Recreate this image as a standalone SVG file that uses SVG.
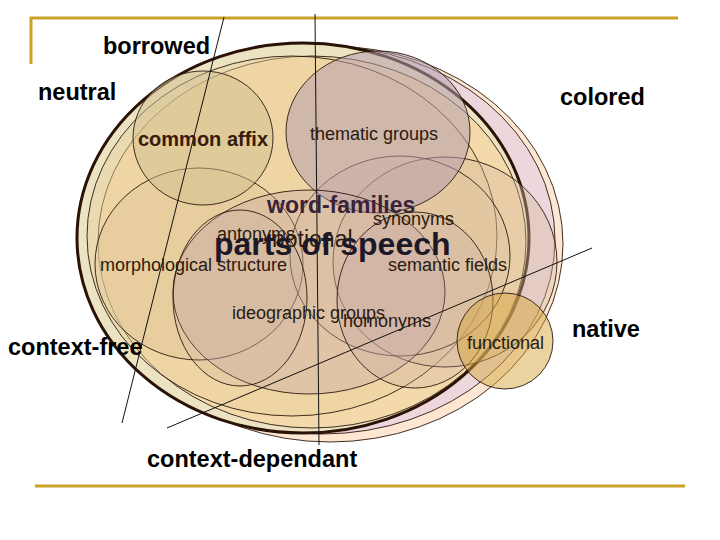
<svg xmlns="http://www.w3.org/2000/svg" width="720" height="540" viewBox="0 0 720 540">
<style>
.e{stroke:#2a1a0e;stroke-width:0.9}
.lbl{font-family:"Liberation Sans",Arial,sans-serif;font-weight:bold;font-size:23.5px;fill:#000}
.in{font-family:"Liberation Sans",Arial,sans-serif;font-size:18px;fill:#2a1a10}
.gold{stroke:#c9a227;stroke-width:3;fill:none}
.ln{stroke:#111;stroke-width:1;fill:none}
</style>
<rect width="720" height="540" fill="#fff"/>
<g id="frame">
<path class="gold" d="M30 18H678M31 17V64M35 486H685"/>
</g>
<g id="colored"><ellipse class="e" cx="330" cy="244" rx="233" ry="198" fill="#fde7d3"/></g>
<g id="lavender"><ellipse class="e" cx="322" cy="240" rx="233" ry="194" fill="#e6d0e0" fill-opacity="0.7"/></g>
<g id="neutral"><ellipse cx="303" cy="238" rx="226" ry="195" fill="#ece3c2" stroke="#2a1206" stroke-width="3"/></g>
<g id="inner1"><ellipse class="e" cx="312" cy="242" rx="214" ry="186" fill="#f7d5a2" fill-opacity="0.75"/></g>
<g id="inner2"><ellipse class="e" cx="292" cy="236" rx="205" ry="180" fill="#e8cf9e" fill-opacity="0.45"/></g>
<g id="morphological"><ellipse class="e" cx="199" cy="264" rx="104" ry="96" fill="#e0c898" fill-opacity="0.45"/></g>
<g id="semantic"><ellipse class="e" cx="445" cy="262" rx="112" ry="105" fill="#d8bca0" fill-opacity="0.4"/></g>
<g id="semantic2"><ellipse class="e" cx="400" cy="256" rx="110" ry="100" fill="#d8bca0" fill-opacity="0.2"/></g>
<g id="commonaffix"><ellipse class="e" cx="203" cy="138" rx="70" ry="67" fill="#cfc090" fill-opacity="0.5"/></g>
<g id="thematic"><ellipse class="e" cx="378" cy="132" rx="92" ry="81" fill="#b49ead" fill-opacity="0.55"/></g>
<g id="wordfamilies"><ellipse class="e" cx="309" cy="292" rx="136" ry="102" fill="#c4a6a8" fill-opacity="0.35"/></g>
<g id="antonyms"><ellipse class="e" cx="240" cy="298" rx="67" ry="88" fill="#c8b0a0" fill-opacity="0.2"/></g>
<g id="synonyms"><ellipse class="e" cx="415" cy="300" rx="78" ry="88" fill="#c8a8a8" fill-opacity="0.25"/></g>
<g id="functional"><circle class="e" cx="505" cy="341" r="48" fill="#d6a840" fill-opacity="0.5"/></g>
<g id="connectors">
<path class="ln" d="M224 17L122 423"/>
<path class="ln" d="M592 248L167 428"/>
<path class="ln" d="M315 14L319 445"/>
</g>
<g id="labels">
<text class="lbl" x="103" y="54">borrowed</text>
<text class="lbl" x="38" y="100">neutral</text>
<text class="lbl" x="560" y="105">colored</text>
<text class="lbl" x="572" y="337">native</text>
<text class="lbl" x="8" y="355">context-free</text>
<text class="lbl" x="147" y="467">context-dependant</text>
<text x="138" y="146" font-family="Liberation Sans,Arial,sans-serif" font-weight="bold" font-size="20" fill="#3a1a08">common affix</text>
<text class="in" x="310" y="140">thematic groups</text>
<text x="267" y="213" font-family="Liberation Sans,Arial,sans-serif" font-weight="bold" font-size="23" fill="#3a2238">word-families</text>
<text class="in" x="373" y="225">synonyms</text>
<text class="in" x="217" y="240">antonyms</text>
<text x="272" y="247" font-family="Liberation Sans,Arial,sans-serif" font-size="23" fill="#2a1a10">notional</text>
<text x="214" y="255" font-family="Liberation Sans,Arial,sans-serif" font-weight="bold" font-size="32" fill="#1c1828">parts of speech</text>
<text class="in" x="100" y="271">morphological structure</text>
<text class="in" x="388" y="271">semantic fields</text>
<text class="in" x="232" y="319">ideographic groups</text>
<text class="in" x="343" y="327">homonyms</text>
<text class="in" x="467" y="349">functional</text>
</g>
</svg>
